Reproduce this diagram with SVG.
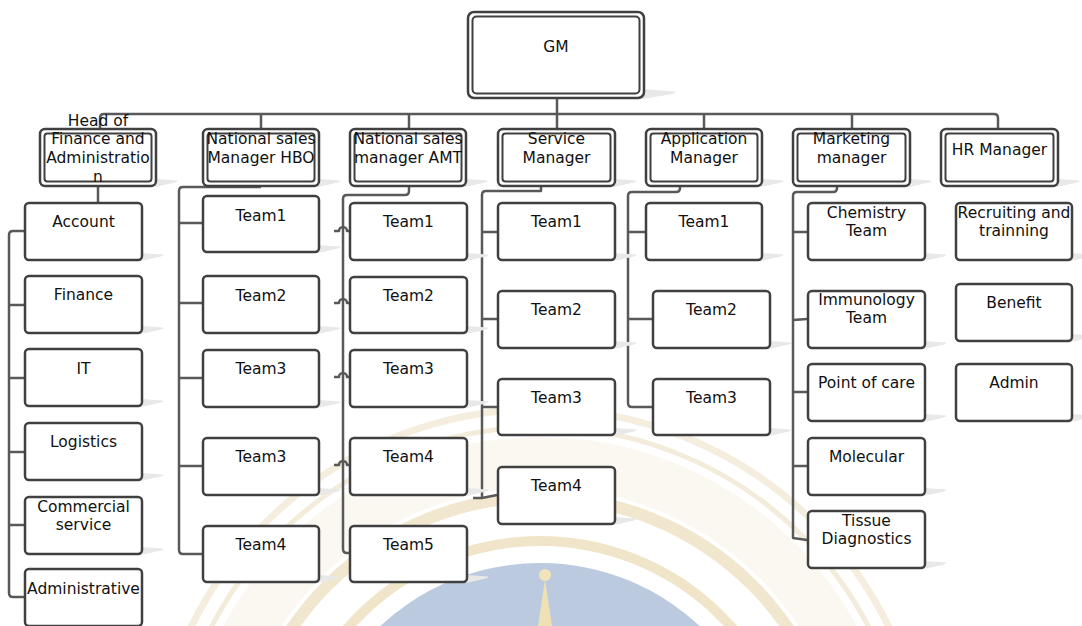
<svg xmlns="http://www.w3.org/2000/svg" xmlns:xlink="http://www.w3.org/1999/xlink" width="1082" height="626" viewBox="0 0 1082 626">
  <style>
    .box { fill: #ffffff; stroke: #404040; stroke-width: 2.5; }
    .inner { fill: none; stroke: #404040; stroke-width: 2; }
    .lbl { font-family: "DejaVu Sans", Verdana, sans-serif; font-size: 15.5px; fill: #111111; text-anchor: middle; }
    .wire { fill: none; stroke: #595959; stroke-width: 2.5; stroke-linejoin: round; }
    .shadow { fill: #e8e8e8; }
  </style>
  <defs>
    <!-- soft wedge shadow at the lower right corner of each box -->
    <path id="sh" class="shadow" d="M-2,-8 L20,-6.5 Q21,-5.5 18,-4.5 L-2,0 Z"/>
    <path id="shBig" class="shadow" d="M-3,-10 L30,-7.5 Q31,-6 27,-5 L-3,0 Z"/>
  </defs>

  <rect width="1082" height="626" fill="#ffffff"/>

  <!-- faint seal in the background -->
  <g id="seal">
    <circle cx="540" cy="797" r="388" fill="none" stroke="#f5eedf" stroke-width="7"/>
    <circle cx="540" cy="797" r="370" fill="none" stroke="#f4ecda" stroke-width="5"/>
    <circle cx="540" cy="797" r="335" fill="none" stroke="#fbf8f1" stroke-width="50"/>
    <circle cx="540" cy="797" r="300" fill="none" stroke="#f1e7ce" stroke-width="12"/>
    <circle cx="540" cy="797" r="256" fill="none" stroke="#f0e5c9" stroke-width="10"/>
    <circle cx="540" cy="797" r="234" fill="#bccae0"/>
    <polygon points="538,626 545,580 552,626" fill="#efe1b4"/>
    <circle cx="545" cy="575" r="6" fill="#f1e4ba"/>
  </g>

  <!-- connectors -->
  <g id="connectors" class="wire">
    <path class="wire" d="M557,99 V114"/>
    <path class="wire" d="M100,128 V118 Q100,114 104,114 H994 Q998,114 998,118 V128"/>
    <path class="wire" d="M261,114 V128 M409,114 V128 M557,114 V128 M704,114 V128 M852,114 V128"/>

    <!-- finance and administration -->
    <path class="wire" d="M98,187 V202"/>
    <path class="wire" d="M24,231 H13 Q9,231 9,235 V593 Q9,597 13,597 H24"/>
    <path class="wire" d="M9,305 H24 M9,378 H24 M9,452 H24 M9,525 H24"/>

    <!-- national sales HBO -->
    <path class="wire" d="M261,187 H183 Q179,187 179,191 V550 Q179,554 183,554 H202"/>
    <path class="wire" d="M179,223 H202 M179,303 H202 M179,378 H202 M179,466 H202"/>

    <!-- national sales AMT, with line jumps -->
    <path class="wire" d="M409,187 V191 Q409,195 405,195 H347 Q343,195 343,199 V549 Q343,553 347,553 H349"/>
    <path class="wire" d="M334,231 H339 A4,4 0 0 1 347,231 H349 M334,303 H339 A4,4 0 0 1 347,303 H349 M334,377 H339 A4,4 0 0 1 347,377 H349 M334,465 H339 A4,4 0 0 1 347,465 H349"/>

    <!-- service -->
    <path class="wire" d="M541,187 V191 H486 Q482,191 482,195 V498"/>
    <path class="wire" d="M482,232 H497 M482,319 H497 M482,407 H497 M473,498 H482 L497,495"/>

    <!-- application -->
    <path class="wire" d="M680,187 V188 Q680,192 676,192 H632 Q628,192 628,196 V403 Q628,407 632,407 H652"/>
    <path class="wire" d="M628,232 H645 M628,319 H652"/>

    <!-- marketing -->
    <path class="wire" d="M837,187 V188 Q837,192 833,192 H797 Q793,192 793,196 V538 L807,540"/>
    <path class="wire" d="M793,232 H807 M793,320 L807,319 M793,392 H807 M793,466 H807"/>
  </g>

  <!-- top level -->
  <g id="gm">
    <use xlink:href="#shBig" x="645" y="99"/>
    <rect class="box" x="468" y="12" width="176" height="86" rx="6"/>
    <rect class="inner" x="472.5" y="16.5" width="167" height="77" rx="4"/>
    <text class="lbl" x="556" y="52">GM</text>
  </g>

  <!-- managers -->
  <g id="mgr-finance">
    <use xlink:href="#sh" x="157" y="187"/>
    <rect class="box" x="40" y="129" width="116" height="57" rx="5"/>
    <rect class="inner" x="44.5" y="133.5" width="107" height="48" rx="3"/>
    <text class="lbl" x="98" y="126">Head of</text>
    <text class="lbl" x="98" y="144">Finance and</text>
    <text class="lbl" x="98" y="163">Administratio</text>
    <text class="lbl" x="98" y="182">n</text>
  </g>
  <g id="mgr-hbo">
    <use xlink:href="#sh" x="320" y="187"/>
    <rect class="box" x="203" y="129" width="116" height="57" rx="5"/>
    <rect class="inner" x="207.5" y="133.5" width="107" height="48" rx="3"/>
    <text class="lbl" x="261" y="144">National sales</text>
    <text class="lbl" x="261" y="163">Manager HBO</text>
  </g>
  <g id="mgr-amt">
    <use xlink:href="#sh" x="467" y="187"/>
    <rect class="box" x="350" y="129" width="116" height="57" rx="5"/>
    <rect class="inner" x="354.5" y="133.5" width="107" height="48" rx="3"/>
    <text class="lbl" x="408" y="144">National sales</text>
    <text class="lbl" x="408" y="163">manager AMT</text>
  </g>
  <g id="mgr-service">
    <use xlink:href="#sh" x="616" y="187"/>
    <rect class="box" x="498" y="129" width="117" height="57" rx="5"/>
    <rect class="inner" x="502.5" y="133.5" width="108" height="48" rx="3"/>
    <text class="lbl" x="556.5" y="144">Service</text>
    <text class="lbl" x="556.5" y="163">Manager</text>
  </g>
  <g id="mgr-application">
    <use xlink:href="#sh" x="763" y="187"/>
    <rect class="box" x="646" y="129" width="116" height="57" rx="5"/>
    <rect class="inner" x="650.5" y="133.5" width="107" height="48" rx="3"/>
    <text class="lbl" x="704" y="144">Application</text>
    <text class="lbl" x="704" y="163">Manager</text>
  </g>
  <g id="mgr-marketing">
    <use xlink:href="#sh" x="911" y="187"/>
    <rect class="box" x="793" y="129" width="117" height="57" rx="5"/>
    <rect class="inner" x="797.5" y="133.5" width="108" height="48" rx="3"/>
    <text class="lbl" x="851.5" y="144">Marketing</text>
    <text class="lbl" x="851.5" y="163">manager</text>
  </g>
  <g id="mgr-hr">
    <use xlink:href="#sh" x="1059" y="187"/>
    <rect class="box" x="941" y="129" width="117" height="57" rx="5"/>
    <rect class="inner" x="945.5" y="133.5" width="108" height="48" rx="3"/>
    <text class="lbl" x="999.5" y="155">HR Manager</text>
  </g>

  <!-- finance and administration units -->
  <g id="fa-account">
    <use xlink:href="#sh" x="143" y="261"/>
    <rect class="box" x="25" y="203" width="117" height="57" rx="4"/>
    <text class="lbl" x="83.5" y="227">Account</text>
  </g>
  <g id="fa-finance">
    <use xlink:href="#sh" x="143" y="334"/>
    <rect class="box" x="25" y="276" width="117" height="57" rx="4"/>
    <text class="lbl" x="83.5" y="300">Finance</text>
  </g>
  <g id="fa-it">
    <use xlink:href="#sh" x="143" y="407"/>
    <rect class="box" x="25" y="349" width="117" height="57" rx="4"/>
    <text class="lbl" x="83.5" y="374">IT</text>
  </g>
  <g id="fa-logistics">
    <use xlink:href="#sh" x="143" y="481"/>
    <rect class="box" x="25" y="423" width="117" height="57" rx="4"/>
    <text class="lbl" x="83.5" y="447">Logistics</text>
  </g>
  <g id="fa-commercial">
    <use xlink:href="#sh" x="143" y="555"/>
    <rect class="box" x="25" y="497" width="117" height="57" rx="4"/>
    <text class="lbl" x="83.5" y="512">Commercial</text>
    <text class="lbl" x="83.5" y="530">service</text>
  </g>
  <g id="fa-administrative">
    <rect class="box" x="25" y="569" width="117" height="57" rx="4"/>
    <text class="lbl" x="83.5" y="594">Administrative</text>
  </g>

  <!-- HBO teams -->
  <g id="hbo-team1">
    <use xlink:href="#sh" x="320" y="253"/>
    <rect class="box" x="203" y="196" width="116" height="56" rx="4"/>
    <text class="lbl" x="261" y="221">Team1</text>
  </g>
  <g id="hbo-team2">
    <use xlink:href="#sh" x="320" y="334"/>
    <rect class="box" x="203" y="276" width="116" height="57" rx="4"/>
    <text class="lbl" x="261" y="301">Team2</text>
  </g>
  <g id="hbo-team3a">
    <use xlink:href="#sh" x="320" y="408"/>
    <rect class="box" x="203" y="350" width="116" height="57" rx="4"/>
    <text class="lbl" x="261" y="374">Team3</text>
  </g>
  <g id="hbo-team3b">
    <use xlink:href="#sh" x="320" y="496"/>
    <rect class="box" x="203" y="438" width="116" height="57" rx="4"/>
    <text class="lbl" x="261" y="462">Team3</text>
  </g>
  <g id="hbo-team4">
    <use xlink:href="#sh" x="320" y="583"/>
    <rect class="box" x="203" y="526" width="116" height="56" rx="4"/>
    <text class="lbl" x="261" y="550">Team4</text>
  </g>

  <!-- AMT teams -->
  <g id="amt-team1">
    <use xlink:href="#sh" x="468" y="261"/>
    <rect class="box" x="350" y="203" width="117" height="57" rx="4"/>
    <text class="lbl" x="408.5" y="227">Team1</text>
  </g>
  <g id="amt-team2">
    <use xlink:href="#sh" x="468" y="334"/>
    <rect class="box" x="350" y="277" width="117" height="56" rx="4"/>
    <text class="lbl" x="408.5" y="301">Team2</text>
  </g>
  <g id="amt-team3">
    <use xlink:href="#sh" x="468" y="408"/>
    <rect class="box" x="350" y="350" width="117" height="57" rx="4"/>
    <text class="lbl" x="408.5" y="374">Team3</text>
  </g>
  <g id="amt-team4">
    <use xlink:href="#sh" x="468" y="496"/>
    <rect class="box" x="350" y="438" width="117" height="57" rx="4"/>
    <text class="lbl" x="408.5" y="462">Team4</text>
  </g>
  <g id="amt-team5">
    <use xlink:href="#sh" x="468" y="583"/>
    <rect class="box" x="350" y="526" width="117" height="56" rx="4"/>
    <text class="lbl" x="408.5" y="550">Team5</text>
  </g>

  <!-- service teams -->
  <g id="svc-team1">
    <use xlink:href="#sh" x="616" y="261"/>
    <rect class="box" x="498" y="203" width="117" height="57" rx="4"/>
    <text class="lbl" x="556.5" y="227">Team1</text>
  </g>
  <g id="svc-team2">
    <use xlink:href="#sh" x="616" y="349"/>
    <rect class="box" x="498" y="291" width="117" height="57" rx="4"/>
    <text class="lbl" x="556.5" y="315">Team2</text>
  </g>
  <g id="svc-team3">
    <use xlink:href="#sh" x="616" y="436"/>
    <rect class="box" x="498" y="379" width="117" height="56" rx="4"/>
    <text class="lbl" x="556.5" y="403">Team3</text>
  </g>
  <g id="svc-team4">
    <use xlink:href="#sh" x="616" y="525"/>
    <rect class="box" x="498" y="467" width="117" height="57" rx="4"/>
    <text class="lbl" x="556.5" y="491">Team4</text>
  </g>

  <!-- application teams -->
  <g id="app-team1">
    <use xlink:href="#sh" x="763" y="261"/>
    <rect class="box" x="646" y="203" width="116" height="57" rx="4"/>
    <text class="lbl" x="704" y="227">Team1</text>
  </g>
  <g id="app-team2">
    <use xlink:href="#sh" x="771" y="349"/>
    <rect class="box" x="653" y="291" width="117" height="57" rx="4"/>
    <text class="lbl" x="711.5" y="315">Team2</text>
  </g>
  <g id="app-team3">
    <use xlink:href="#sh" x="771" y="436"/>
    <rect class="box" x="653" y="379" width="117" height="56" rx="4"/>
    <text class="lbl" x="711.5" y="403">Team3</text>
  </g>

  <!-- marketing teams -->
  <g id="mkt-chemistry">
    <use xlink:href="#sh" x="926" y="261"/>
    <rect class="box" x="808" y="203" width="117" height="57" rx="4"/>
    <text class="lbl" x="866.5" y="218">Chemistry</text>
    <text class="lbl" x="866.5" y="236">Team</text>
  </g>
  <g id="mkt-immunology">
    <use xlink:href="#sh" x="926" y="349"/>
    <rect class="box" x="808" y="291" width="117" height="57" rx="4"/>
    <text class="lbl" x="866.5" y="305">Immunology</text>
    <text class="lbl" x="866.5" y="323">Team</text>
  </g>
  <g id="mkt-poc">
    <use xlink:href="#sh" x="926" y="422"/>
    <rect class="box" x="808" y="364" width="117" height="57" rx="4"/>
    <text class="lbl" x="866.5" y="388">Point of care</text>
  </g>
  <g id="mkt-molecular">
    <use xlink:href="#sh" x="926" y="496"/>
    <rect class="box" x="808" y="438" width="117" height="57" rx="4"/>
    <text class="lbl" x="866.5" y="462">Molecular</text>
  </g>
  <g id="mkt-tissue">
    <use xlink:href="#sh" x="926" y="569"/>
    <rect class="box" x="808" y="511" width="117" height="57" rx="4"/>
    <text class="lbl" x="866.5" y="526">Tissue</text>
    <text class="lbl" x="866.5" y="544">Diagnostics</text>
  </g>

  <!-- HR units -->
  <g id="hr-recruiting">
    <use xlink:href="#sh" x="1073" y="261"/>
    <rect class="box" x="956" y="203" width="116" height="57" rx="4"/>
    <text class="lbl" x="1014" y="218">Recruiting and</text>
    <text class="lbl" x="1014" y="236">trainning</text>
  </g>
  <g id="hr-benefit">
    <use xlink:href="#sh" x="1073" y="342"/>
    <rect class="box" x="956" y="284" width="116" height="57" rx="4"/>
    <text class="lbl" x="1014" y="308">Benefit</text>
  </g>
  <g id="hr-admin">
    <use xlink:href="#sh" x="1073" y="422"/>
    <rect class="box" x="956" y="364" width="116" height="57" rx="4"/>
    <text class="lbl" x="1014" y="388">Admin</text>
  </g>
</svg>
